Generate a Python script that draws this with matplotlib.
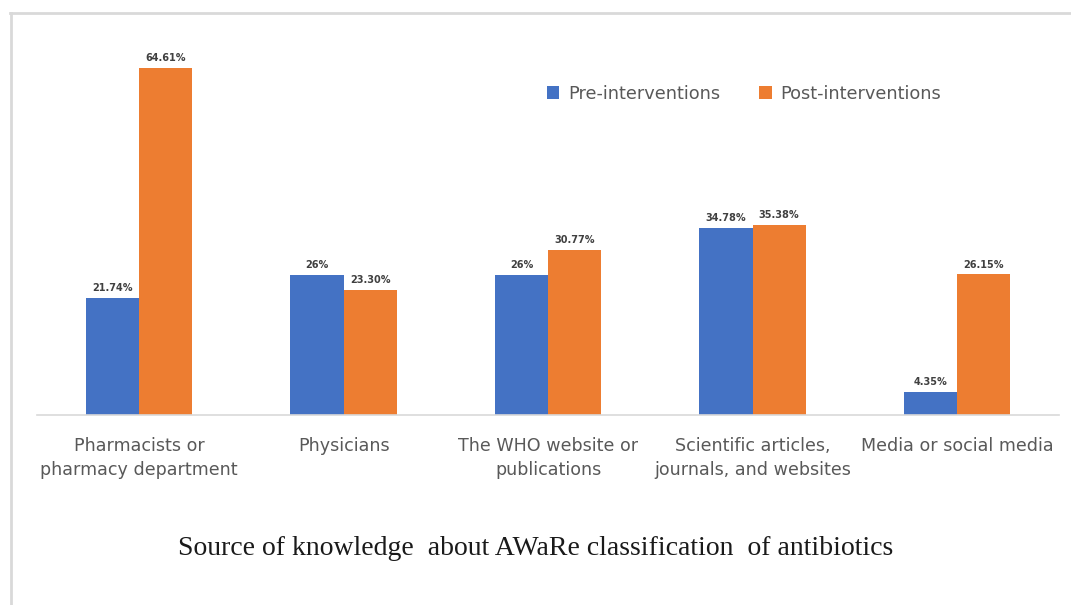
import matplotlib.pyplot as plt
import numpy as np
from matplotlib.lines import Line2D

categories = [
    "Pharmacists or\npharmacy department",
    "Physicians",
    "The WHO website or\npublications",
    "Scientific articles,\njournals, and websites",
    "Media or social media",
]
pre = [21.74, 26.0, 26.0, 34.78, 4.35]
post = [64.61, 23.30, 30.77, 35.38, 26.15]
pre_labels = ["21.74%", "26%", "26%", "34.78%", "4.35%"]
post_labels = ["64.61%", "23.30%", "30.77%", "35.38%", "26.15%"]

blue = "#4472C4"
orange = "#ED7D31"

fig = plt.figure(figsize=(10.71, 6.05), dpi=100)
ax = fig.add_axes([0.0345, 0.314, 0.9545, 0.622])

x = np.arange(len(categories))
w = 0.26
b1 = ax.bar(x - w / 2, pre, w, color=blue, label="Pre-interventions")
b2 = ax.bar(x + w / 2, post, w, color=orange, label="Post-interventions")

for bars, labs in ((b1, pre_labels), (b2, post_labels)):
    for rect, lab in zip(bars, labs):
        ax.text(rect.get_x() + rect.get_width() / 2, rect.get_height() + 0.9, lab,
                ha="center", va="bottom", fontsize=7, fontweight="bold", color="#404040")

ax.set_xlim(-0.5, 4.5)
ax.set_ylim(0, 70)
ax.set_yticks([])
ax.set_xticks(x)
ax.set_xticklabels(categories, fontsize=12.6, color="#595959", linespacing=1.4)
ax.tick_params(axis="x", length=0, pad=16)
for s in ["top", "right", "left"]:
    ax.spines[s].set_visible(False)
ax.spines["bottom"].set_color("#D9D9D9")
ax.spines["bottom"].set_linewidth(1.2)

ax.legend(loc="upper left", bbox_to_anchor=(0.483, 0.92), ncol=2, frameon=False,
          fontsize=12.8, handlelength=0.7, handleheight=0.7, columnspacing=2.2,
          handletextpad=0.5, labelcolor="#595959")

fig.text(0.5, 0.094, "Source of knowledge  about AWaRe classification  of antibiotics",
         ha="center", va="center", fontsize=20, family="Liberation Serif", color="#1a1a1a")

# light frame at top and left
fig.add_artist(Line2D([10 / 1071, 1], [1 - 13 / 605, 1 - 13 / 605], color="#D9D9D9", lw=2))
fig.add_artist(Line2D([11 / 1071, 11 / 1071], [0, 1 - 13 / 605], color="#D9D9D9", lw=2))

fig.savefig("out.png", dpi=100)
